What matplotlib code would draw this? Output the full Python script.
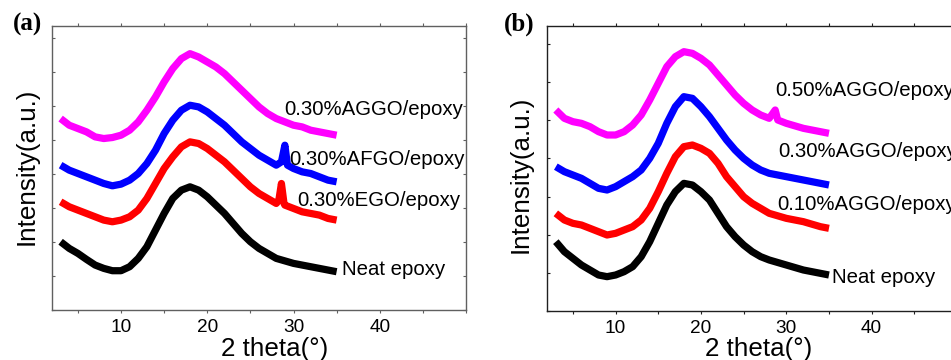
import matplotlib
matplotlib.use("Agg")
import matplotlib.pyplot as plt
from matplotlib.ticker import MultipleLocator, NullFormatter, FixedLocator

plt.rcParams['font.family'] = ['Liberation Sans', 'DejaVu Sans']

# ---------------- Panel (a) data ----------------
a_neat_x = [3, 4, 5, 6, 7, 8, 9, 10, 11, 12, 13, 14, 15, 16, 17, 18, 19, 20, 21, 22, 23, 24, 25, 26, 27, 28, 30, 32, 34, 35]
a_neat_y = [205, 185, 170, 152, 135, 125, 118, 118, 130, 155, 190, 240, 290, 335, 360, 370, 360, 340, 315, 290, 260, 230, 205, 185, 170, 155, 140, 130, 120, 115]

a_ego_x = [3, 4, 5, 6, 7, 8, 9, 10, 11, 12, 13, 14, 15, 16, 17, 18, 19, 20, 21, 22, 23, 24, 25, 26, 27, 28, 28.3, 28.6, 28.9, 29, 30, 31, 32, 33, 34, 35]
a_ego_y = [325, 310, 300, 290, 280, 270, 265, 270, 280, 300, 335, 380, 425, 460, 490, 505, 500, 485, 465, 445, 420, 395, 370, 350, 335, 320, 330, 380, 320, 315, 305, 295, 290, 285, 275, 270]

a_afgo_x = [3, 4, 5, 6, 7, 8, 9, 10, 11, 12, 13, 14, 15, 16, 17, 18, 19, 20, 21, 22, 23, 24, 25, 26, 27, 28, 28.6, 29, 29.3, 30, 31, 32, 33, 34, 35]
a_afgo_y = [435, 420, 410, 400, 390, 380, 373, 378, 390, 410, 440, 480, 530, 570, 600, 615, 610, 595, 575, 555, 530, 505, 485, 465, 450, 435, 445, 495, 435, 425, 415, 410, 400, 390, 385]

a_aggo_x = [3, 4, 5, 6, 7, 8, 9, 10, 11, 12, 13, 14, 15, 16, 17, 18, 19, 20, 21, 22, 23, 24, 25, 26, 27, 28, 29, 30, 31, 32, 33, 34, 35]
a_aggo_y = [575, 555, 545, 535, 520, 515, 518, 525, 540, 565, 600, 640, 685, 725, 755, 770, 760, 745, 730, 710, 685, 660, 635, 610, 590, 575, 565, 555, 550, 540, 535, 530, 525]

a_labels = ['0.30%AGGO/epoxy', '0.30%AFGO/epoxy', '0.30%EGO/epoxy', 'Neat epoxy']

# ---------------- Panel (b) data ----------------
b_neat_x = [3, 4, 5, 6, 7, 8, 9, 10, 11, 12, 13, 14, 15, 16, 17, 18, 19, 20, 21, 22, 23, 24, 25, 26, 27, 28, 30, 32, 34, 35]
b_neat_y = [208, 178, 158, 138, 123, 108, 103, 108, 118, 133, 163, 208, 263, 318, 358, 383, 378, 358, 333, 293, 253, 223, 198, 178, 163, 153, 138, 123, 113, 108]

b_010_x = [3, 4, 5, 6, 7, 8, 9, 10, 11, 12, 13, 14, 15, 16, 17, 18, 19, 20, 21, 22, 23, 24, 25, 26, 27, 28, 30, 32, 34, 35]
b_010_y = [293, 273, 263, 258, 248, 238, 228, 233, 243, 253, 273, 308, 358, 413, 463, 493, 498, 488, 473, 443, 403, 373, 343, 323, 308, 293, 278, 268, 253, 248]

b_030_x = [3, 4, 5, 6, 7, 8, 9, 10, 11, 12, 13, 14, 15, 16, 17, 18, 19, 20, 21, 22, 23, 24, 25, 26, 27, 28, 30, 32, 34, 35]
b_030_y = [433, 418, 408, 398, 383, 368, 363, 373, 388, 403, 423, 458, 503, 563, 613, 643, 638, 613, 583, 548, 513, 483, 458, 438, 423, 413, 403, 393, 383, 378]

b_050_x = [3, 4, 5, 6, 7, 8, 9, 10, 11, 12, 13, 14, 15, 16, 17, 18, 19, 20, 21, 22, 23, 24, 25, 26, 27, 28, 28.7, 29, 30, 32, 34, 35]
b_050_y = [603, 578, 568, 563, 553, 538, 528, 528, 538, 558, 588, 633, 683, 733, 763, 778, 773, 758, 738, 708, 678, 648, 623, 603, 588, 578, 603, 573, 563, 548, 538, 533]

b_labels = ['0.50%AGGO/epoxy', '0.30%AGGO/epoxy', '0.10%AGGO/epoxy', 'Neat epoxy']

x_ticks = [10, 20, 30, 40]
colors = ['#ff00ff', '#0000ff', '#ff0000', '#000000']

W, H = 951, 360
fig = plt.figure(figsize=(W / 100, H / 100), dpi=100)

def px_axes(l, r, t, b):
    return fig.add_axes([l / W, 1 - b / H, (r - l) / W, (b - t) / H])

axA = px_axes(52, 466, 26, 310)
axB = px_axes(547.3, 957, 26, 311)

LW = 5.2

def style(ax, spine_col, ystep, ytop):
    ax.set_xlim(2, 50)
    ax.set_ylim(0, ytop)
    ax.xaxis.set_major_locator(FixedLocator(x_ticks))
    ax.set_xticklabels([str(t) for t in x_ticks])
    ax.xaxis.set_minor_locator(MultipleLocator(5))
    ax.yaxis.set_major_locator(MultipleLocator(ystep))
    ax.yaxis.set_major_formatter(NullFormatter())
    for s in ax.spines.values():
        s.set_color(spine_col)
        s.set_linewidth(1.0)
    ax.tick_params(axis='x', which='both', direction='out', length=2.5, width=0.8,
                   colors=spine_col, labelcolor='black', labelsize=13.7, pad=4,
                   top=True)
    ax.tick_params(axis='y', which='both', direction='in', length=2.5, width=0.8,
                   colors=spine_col, right=True)

style(axA, '#606060', 102, 853)
style(axB, '#202020', 114.5, 855)

for x, y, c in zip([a_aggo_x, a_afgo_x, a_ego_x, a_neat_x],
                   [a_aggo_y, a_afgo_y, a_ego_y, a_neat_y], colors):
    axA.plot(x, y, color=c, lw=LW, solid_joinstyle='round', solid_capstyle='butt')

for x, y, c in zip([b_050_x, b_030_x, b_010_x, b_neat_x],
                   [b_050_y, b_030_y, b_010_y, b_neat_y], colors):
    axB.plot(x, y, color=c, lw=LW, solid_joinstyle='round', solid_capstyle='butt')

fs_ann = 14.7
a_pos = [(28.9, 602), (29.5, 453), (30.4, 330), (35.6, 122)]
for (tx, ty), lab in zip(a_pos, a_labels):
    axA.text(tx, ty, lab, fontsize=fs_ann, ha='left', va='center')

b_pos = [(28.7, 663), (29.1, 478), (28.9, 321), (35.4, 100)]
for (tx, ty), lab in zip(b_pos, b_labels):
    axB.text(tx, ty, lab, fontsize=fs_ann, ha='left', va='center', clip_on=False)

# axis labels
fs_lab = 18.7
fig.text(27 / W, 1 - 166 / H, 'Intensity(a.u.)', rotation=90, fontsize=fs_lab,
         ha='center', va='center')
fig.text(521 / W, 1 - 174 / H, 'Intensity(a.u.)', rotation=90, fontsize=fs_lab,
         ha='center', va='center')
fig.text(274.5 / W, 1 - 349 / H, '2 theta(°)', fontsize=fs_lab, ha='center', va='center')
fig.text(758.5 / W, 1 - 349 / H, '2 theta(°)', fontsize=fs_lab, ha='center', va='center')

# panel letters
fig.text(27 / W, 1 - 24 / H, '(a)', fontsize=18, fontweight='bold',
         family='Liberation Serif', ha='center', va='center')
fig.text(519 / W, 1 - 24 / H, '(b)', fontsize=18, fontweight='bold',
         family='Liberation Serif', ha='center', va='center')

fig.savefig('out.png', dpi=100)
